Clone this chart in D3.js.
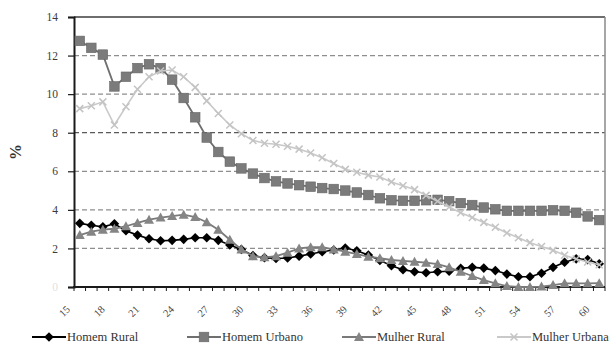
<!DOCTYPE html>
<html>
<head>
<meta charset="utf-8">
<script src="https://cdn.jsdelivr.net/npm/d3@7"></script>
<style>
  html, body { margin: 0; padding: 0; background: #fff; }
  svg { display: block; }
  text { font-family: "Liberation Serif", "Times New Roman", serif; }
</style>
</head>
<body>
<svg id="chart" width="614" height="354"></svg>
<script>
// Idade (anos)
const ages = d3.range(15, 61);

// Percentual por idade, cada série
const homemRural = [3.3, 3.2, 3.12, 3.28, 2.92, 2.69, 2.5, 2.4, 2.42, 2.47, 2.55, 2.55, 2.42, 2.18, 1.95,
  1.63, 1.52, 1.48, 1.5, 1.6, 1.71, 1.83, 1.92, 2.02, 1.88, 1.66, 1.38, 1.1, 0.9, 0.79,
  0.74, 0.79, 0.82, 0.97, 1.02, 0.98, 0.85, 0.67, 0.53, 0.53, 0.71, 1.02, 1.28, 1.46, 1.42, 1.2];

const homemUrbano = [12.76, 12.4, 12.05, 10.4, 10.9, 11.35, 11.55, 11.35, 10.75, 9.8, 8.8, 7.75, 7.0, 6.5, 6.15,
  5.88, 5.65, 5.48, 5.37, 5.28, 5.2, 5.13, 5.08, 5.0, 4.9, 4.77, 4.6, 4.5, 4.47, 4.47,
  4.5, 4.52, 4.45, 4.35, 4.25, 4.12, 4.03, 3.95, 3.95, 3.95, 3.95, 3.98, 3.95, 3.85, 3.66, 3.47];

const mulherRural = [2.69, 2.87, 2.97, 3.02, 3.15, 3.32, 3.49, 3.6, 3.68, 3.75, 3.63, 3.36, 2.97, 2.45, 1.95,
  1.6, 1.54, 1.6, 1.78, 2.0, 2.06, 2.06, 1.95, 1.83, 1.71, 1.57, 1.49, 1.4, 1.35, 1.31,
  1.26, 1.19, 1.02, 0.79, 0.57, 0.36, 0.19, 0.05, 0.0, 0.0, 0.02, 0.1, 0.19, 0.19, 0.19, 0.2];

const mulherUrbana = [9.25, 9.4, 9.6, 8.4, 9.35, 10.25, 10.9, 11.2, 11.25, 10.9, 10.35, 9.65, 9.0, 8.4, 7.95,
  7.6, 7.45, 7.4, 7.3, 7.15, 6.95, 6.7, 6.4, 6.1, 5.95, 5.8, 5.7, 5.45, 5.25, 5.05,
  4.75, 4.45, 4.15, 3.85, 3.6, 3.35, 3.1, 2.8, 2.55, 2.3, 2.1, 1.9, 1.65, 1.45, 1.3, 1.15];

const yTicks = [0, 2, 4, 6, 8, 10, 12, 14];
const xLabelAges = d3.range(15, 61, 3);

const seriesNames = ["Homem Rural", "Homem Urbano", "Mulher Rural", "Mulher Urbana"];

const series = [
  { name: seriesNames[0], values: homemRural, stroke: "#000000", fill: "#000000", marker: "diamond", width: 1.6 },
  { name: seriesNames[1], values: homemUrbano, stroke: "#6f6f6f", fill: "#7b7b7b", marker: "square", width: 1.8 },
  { name: seriesNames[2], values: mulherRural, stroke: "#7a7a7a", fill: "#858585", marker: "triangle", width: 1.8 },
  { name: seriesNames[3], values: mulherUrbana, stroke: "#c9c9c9", fill: "#c4c4c4", marker: "cross", width: 1.6 }
];

const svg = d3.select("#chart");
const plot = { left: 74, right: 605, top: 17, bottom: 287 };

const x = d3.scaleBand().domain(ages).range([plot.left, plot.right]).padding(0);
const cx = a => x(a) + x.bandwidth() / 2;
const y = d3.scaleLinear().domain([0, 14]).range([plot.bottom, plot.top]);

// Horizontal dashed grid lines
svg.append("g")
  .selectAll("line")
  .data(yTicks.filter(v => v > 0 && v < 14))
  .join("line")
  .attr("x1", plot.left).attr("x2", plot.right)
  .attr("y1", d => y(d)).attr("y2", d => y(d))
  .attr("stroke", d => d === 8 ? "#5a5a5a" : "#8e8e8e")
  .attr("stroke-width", 1.3)
  .attr("stroke-dasharray", "5,3");

// Frame: top and right in grey
svg.append("line")
  .attr("x1", plot.left).attr("x2", plot.right)
  .attr("y1", y(14)).attr("y2", y(14))
  .attr("stroke", "#6e6e6e").attr("stroke-width", 2);
svg.append("line")
  .attr("x1", plot.right).attr("x2", plot.right)
  .attr("y1", y(14)).attr("y2", y(0))
  .attr("stroke", "#8a8a8a").attr("stroke-width", 1.5);

// Y axis
const yAxis = d3.axisLeft(y).tickValues(yTicks).tickSize(6).tickPadding(10).tickFormat(d3.format("d"));
const gy = svg.append("g").attr("transform", `translate(${plot.left},0)`).call(yAxis);
gy.select(".domain").attr("stroke", "#1a1a1a").attr("stroke-width", 2);
gy.selectAll(".tick line").attr("stroke", "#1a1a1a").attr("stroke-width", 1.2);
gy.selectAll(".tick text")
  .attr("font-size", 11.5)
  .attr("fill", d => d === 0 ? "#e2e2e2" : "#3a3a3a")
  .style("font-family", "'Liberation Serif', serif");

// X axis: ticks between categories
const gx = svg.append("g");
gx.append("line")
  .attr("x1", plot.left - 1).attr("x2", plot.right)
  .attr("y1", plot.bottom).attr("y2", plot.bottom)
  .attr("stroke", "#1a1a1a").attr("stroke-width", 2);
gx.selectAll("line.tk")
  .data(ages.concat([null]))
  .join("line")
  .attr("class", "tk")
  .attr("x1", d => d === null ? plot.right : x(d))
  .attr("x2", d => d === null ? plot.right : x(d))
  .attr("y1", plot.bottom).attr("y2", plot.bottom + 4)
  .attr("stroke", "#1a1a1a").attr("stroke-width", 1);

// Age labels, rotated 45 degrees
const xLabels = gx.selectAll("g.xl")
  .data(xLabelAges)
  .join("g")
  .attr("class", "xl")
  .attr("transform", d => `translate(${cx(d) - 9},${plot.bottom + 23})`);
xLabels.append("text")
  .attr("transform", "rotate(-45)")
  .attr("text-anchor", "end")
  .attr("font-size", 10.5)
  .attr("fill", "#444")
  .text(d => d);

// Y axis title
svg.append("text")
  .attr("transform", `translate(21,${(plot.top + plot.bottom) / 2}) rotate(-90)`)
  .attr("text-anchor", "middle")
  .attr("font-size", 16)
  .attr("font-weight", "bold")
  .attr("fill", "#333")
  .text("%");

// Marker shapes
function drawMarker(g, type, px, py, s) {
  if (type === "diamond") {
    g.append("path")
      .attr("d", `M${px},${py - 4.8}L${px + 4.8},${py}L${px},${py + 4.8}L${px - 4.8},${py}Z`)
      .attr("fill", s.fill);
  } else if (type === "square") {
    g.append("rect")
      .attr("x", px - 4.8).attr("y", py - 4.8)
      .attr("width", 9.6).attr("height", 9.6)
      .attr("fill", s.fill).attr("stroke", "#666").attr("stroke-width", 0.6);
  } else if (type === "triangle") {
    g.append("path")
      .attr("d", `M${px},${py - 5}L${px + 5},${py + 4}L${px - 5},${py + 4}Z`)
      .attr("fill", s.fill);
  } else if (type === "cross") {
    g.append("path")
      .attr("d", `M${px - 3.5},${py - 3.5}L${px + 3.5},${py + 3.5}M${px + 3.5},${py - 3.5}L${px - 3.5},${py + 3.5}`)
      .attr("stroke", s.fill).attr("stroke-width", 1.5).attr("fill", "none");
  }
}

const line = d3.line().x(d => cx(d.age)).y(d => y(d.v));

series.forEach(s => {
  const pts = ages.map((a, i) => ({ age: a, v: s.values[i] }));
  const g = svg.append("g");
  g.append("path")
    .datum(pts)
    .attr("d", line)
    .attr("fill", "none")
    .attr("stroke", s.stroke)
    .attr("stroke-width", s.width);
  pts.forEach(p => drawMarker(g, s.marker, cx(p.age), y(p.v), s));
});

// Legend
const legendY = 337;
const legendX = [32, 187, 342, 497];
series.forEach((s, i) => {
  const g = svg.append("g");
  const x0 = legendX[i];
  g.append("line")
    .attr("x1", x0).attr("x2", x0 + 34)
    .attr("y1", legendY).attr("y2", legendY)
    .attr("stroke", s.stroke).attr("stroke-width", 2.2);
  drawMarker(g, s.marker, x0 + 17, legendY, s);
  g.append("text")
    .attr("x", x0 + 35).attr("y", legendY + 4)
    .attr("font-size", 12.5)
    .attr("fill", "#333")
    .text(s.name);
});
</script>
</body>
</html>
